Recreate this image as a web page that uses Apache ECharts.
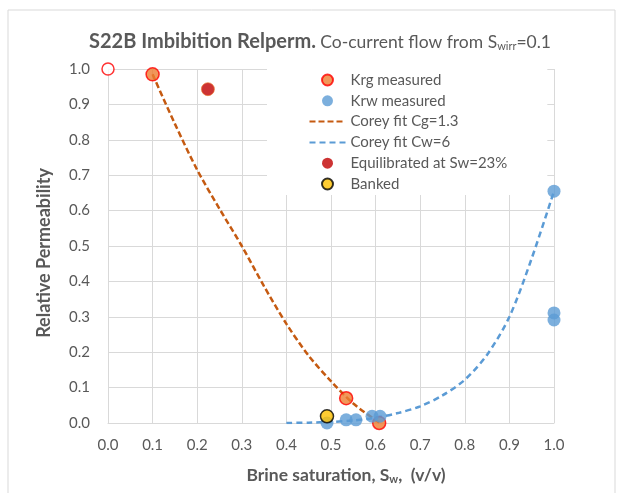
<!DOCTYPE html>
<html>
<head>
<meta charset="utf-8">
<script src="https://cdn.jsdelivr.net/npm/echarts@6/dist/echarts.min.js"></script>
<style>
  html, body { margin: 0; padding: 0; background: #fff; }
  #main { width: 617px; height: 493px; }
</style>
</head>
<body>
<div id="main"></div>
<script>
// measured points
const krgX = [0.1, 0.534, 0.608]
const krgY = [0.985, 0.07, 0.0]
const krwX = [0.491, 0.534, 0.556, 0.592, 0.61, 1.0, 1.0, 1.0]
const krwY = [0.0, 0.009, 0.009, 0.019, 0.019, 0.655, 0.311, 0.291]
const equilX = [0.224]
const equilY = [0.943]
const bankedX = [0.491]
const bankedY = [0.019]
const startX = [0.0]
const startY = [1.0]

// Corey fits
const coreyGX = [0.1, 0.15, 0.2, 0.25, 0.3, 0.35, 0.4, 0.45, 0.5, 0.55, 0.6, 0.61]
const coreyGY = [0.985, 0.845, 0.715, 0.605, 0.5, 0.386, 0.28, 0.19, 0.118, 0.055, 0.008, 0.0]
const coreyWX = [0.4, 0.45, 0.5, 0.55, 0.6, 0.65, 0.7, 0.75, 0.8, 0.85, 0.9, 0.95, 1.0]
const coreyWY = [0, 0.001, 0.003, 0.007, 0.015, 0.028, 0.047, 0.078, 0.122, 0.193, 0.3, 0.465, 0.655]

const legendNames = ['Krg measured', 'Krw measured', 'Corey fit Cg=1.3', 'Corey fit Cw=6', 'Equilibrated at Sw=23%', 'Banked']
const lineNames = ['Corey fit Cg=1.3', 'Corey fit Cw=6']

function pairs(xs, ys) {
  return xs.map((x, i) => [x, ys[i]])
}

const grey = '#595959'
const gridCol = '#d9d9d9'
const font = 'Lato'

// legend entries: hide the dot on the dashed-line icons
function legendItem(n) {
  if (lineNames.includes(n)) return { name: n, itemStyle: { opacity: 0 } }
  if (n.startsWith('Equilibrated')) return { name: n, itemStyle: { borderWidth: 0 } }
  return n
}

let myChart = echarts.init(document.getElementById('main'))
const option = {
  backgroundColor: '#fff',
  textStyle: { fontFamily: font },
  animation: false,
  graphic: [
    {
      type: 'rect', z: -10,
      shape: { x: 8, y: 10, width: 607, height: 495 },
      style: { fill: 'none', stroke: gridCol, lineWidth: 1 }
    }
  ],
  title: {
    left: 84,
    top: 27,
    text: '{a|S22B Imbibition Relperm.} {b|Co-current flow from S}{c|wirr}{b|=0.1}',
    textStyle: {
      rich: {
        a: { fontFamily: font, fontWeight: 'bold', fontSize: 20, color: grey },
        b: { fontFamily: font, fontWeight: 'normal', fontSize: 17.5, color: grey },
        c: { fontFamily: font, fontWeight: 'normal', fontSize: 11, color: grey, padding: [9, 0, 0, 0] }
      }
    }
  },
  grid: {
    left: 108,
    right: 63,
    top: 69,
    bottom: 70
  },
  legend: {
    orient: 'vertical',
    left: 267,
    top: 58,
    padding: [14, 40, 3, 41.5],
    backgroundColor: '#fff',
    itemWidth: 36,
    itemHeight: 11,
    itemGap: 4.8,
    data: legendNames.map(legendItem),
    textStyle: { fontFamily: font, fontSize: 15, color: grey, lineHeight: 16 }
  },
  xAxis: {
    type: 'value',
    min: 0, max: 1, interval: 0.1,
    name: '{b|Brine saturation, S}{s|w}{b|,  (v/v)}',
    nameLocation: 'middle',
    nameGap: 43,
    nameTextStyle: {
      padding: [0, 0, 0, 30],
      rich: {
        b: { fontFamily: font, fontWeight: 'bold', fontSize: 17.5, color: grey },
        s: { fontFamily: font, fontWeight: 'bold', fontSize: 11, color: grey, padding: [8, 0, 0, 0] }
      }
    },
    axisLine: { lineStyle: { color: gridCol, width: 1 } },
    axisTick: { show: false },
    axisLabel: {
      margin: 15, color: grey, fontSize: 15, fontFamily: font,
      formatter: (v) => v.toFixed(1)
    },
    splitLine: { lineStyle: { color: gridCol, width: 1 } }
  },
  yAxis: {
    type: 'value',
    min: 0, max: 1, interval: 0.1,
    name: 'Relative Permeability',
    nameLocation: 'middle',
    nameGap: 55,
    nameTextStyle: {
      fontFamily: font, fontWeight: 'bold', fontSize: 18, color: grey,
      padding: [0, 14, 0, 0]
    },
    axisLine: { show: true, lineStyle: { color: gridCol, width: 1 } },
    axisTick: { show: false },
    axisLabel: {
      margin: 18, color: grey, fontSize: 15, fontFamily: font,
      formatter: (v) => v.toFixed(1)
    },
    splitLine: { lineStyle: { color: gridCol, width: 1 } }
  },
  series: [
    {
      name: 'Corey fit Cg=1.3',
      type: 'line',
      data: pairs(coreyGX, coreyGY),
      showSymbol: false,
      symbol: 'none',
      smooth: 0.3,
      color: '#C55A11',
      lineStyle: { color: '#C55A11', width: 2.5, type: [6, 3] },
      z: 3
    },
    {
      name: 'Corey fit Cw=6',
      type: 'line',
      data: pairs(coreyWX, coreyWY),
      showSymbol: false,
      symbol: 'none',
      smooth: 0.3,
      color: '#5B9BD5',
      lineStyle: { color: '#5B9BD5', width: 2.5, type: [6, 4] },
      z: 3
    },
    {
      name: 'start',
      type: 'scatter',
      data: pairs(startX, startY),
      symbolSize: 12,
      itemStyle: { color: '#fff', borderColor: '#FF0000', borderWidth: 1.5 },
      z: 4
    },
    {
      name: 'Krg measured',
      type: 'scatter',
      data: pairs(krgX, krgY),
      symbolSize: 13,
      itemStyle: { color: '#ED7D31', borderColor: '#FF0000', borderWidth: 1.5 },
      z: 5
    },
    {
      name: 'Krw measured',
      type: 'scatter',
      data: pairs(krwX, krwY),
      symbolSize: 13,
      itemStyle: { color: '#5B9BD5' },
      z: 6
    },
    {
      name: 'Equilibrated at Sw=23%',
      type: 'scatter',
      data: pairs(equilX, equilY),
      symbolSize: 13,
      itemStyle: { color: '#C00000', borderColor: '#ED7D31', borderWidth: 0.8 },
      z: 5
    },
    {
      name: 'Banked',
      type: 'scatter',
      data: pairs(bankedX, bankedY),
      symbolSize: 13,
      itemStyle: { color: '#FFC000', borderColor: '#000', borderWidth: 1.5 },
      z: 7
    }
  ]
}
myChart.setOption(option)
</script>
</body>
</html>
